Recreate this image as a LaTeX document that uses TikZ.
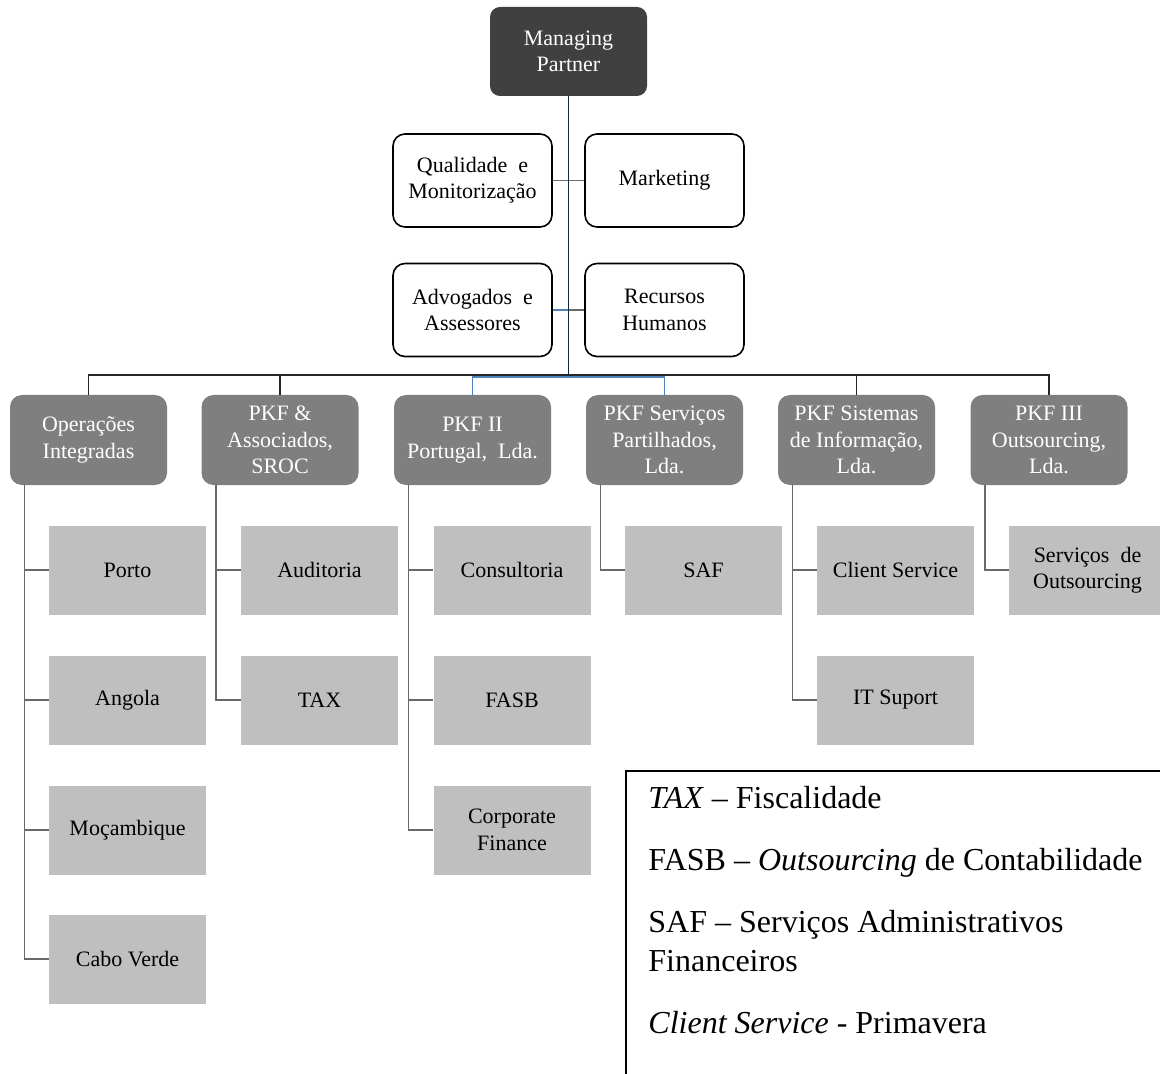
\documentclass[tikz,border=0pt]{standalone}
\usepackage{fontspec}
\setmainfont{Liberation Serif}
\usetikzlibrary{positioning, calc}
\definecolor{topgray}{RGB}{64, 64, 64}
\definecolor{firmgray}{RGB}{127, 127, 127}
\definecolor{unitgray}{RGB}{191, 191, 191}
\definecolor{linkblue}{RGB}{79, 129, 189}
\definecolor{stemnavy}{RGB}{22, 38, 60}
\definecolor{linkgray}{RGB}{105, 105, 105}

\tikzset{
  boxfont/.style={font=\fontsize{11}{13.2}\selectfont},
  topbox/.style={boxfont, fill=topgray, text=white, rounded corners=5pt, inner sep=2pt,
    minimum width=78.5pt, minimum height=44.5pt, align=center},
  staffbox/.style={boxfont, draw=black, line width=0.8pt, fill=white, rounded corners=6pt, inner sep=2pt,
    minimum width=79.5pt, minimum height=46.5pt, align=center},
  firmbox/.style={boxfont, fill=firmgray, text=white, rounded corners=6pt, inner sep=2pt,
    minimum width=78.5pt, minimum height=45pt, align=center},
  unitbox/.style={boxfont, fill=unitgray, inner sep=2pt,
    minimum width=78.5pt, minimum height=44.5pt, align=center},
  busline/.style={draw=black!85, line width=0.65pt},
  blueline/.style={draw=linkblue, line width=0.65pt},
  subline/.style={draw=linkgray, line width=0.65pt},
}

\begin{document}
\begin{tikzpicture}[x=0.5pt, y=-0.5pt]
  \useasboundingbox (0, 0) rectangle (1160, 1074);
  \clip (0, 0) rectangle (1160, 1074);

  % Top
  \node[topbox] (mp) at (568.5, 51.5) {Managing\\Partner};
  \coordinate (bus) at (568.5, 375);

  % Staff functions
  \node[staffbox] (qm) at (472.5, 180.5) {Qualidade\ \ e\\Monitorização};
  \node[staffbox] (mk) at (664.5, 180.5) {Marketing};
  \node[staffbox] (aa) at (472.5, 310) {Advogados\ \ e\\Assessores};
  \node[staffbox] (rh) at (664.5, 310) {Recursos\\Humanos};

  % Firms
  \node[firmbox] (op) at (88.5, 440) {Operações\\Integradas};
  \node[firmbox] (pa) at (280, 440) {PKF \&\\Associados,\\SROC};
  \node[firmbox] (p2) at (472.5, 440) {PKF II\\Portugal,\ \ Lda.};
  \node[firmbox] (ps) at (664.5, 440) {PKF Serviços\\Partilhados,\\Lda.};
  \node[firmbox] (si) at (856.5, 440) {PKF Sistemas\\de Informação,\\Lda.};
  \node[firmbox] (ou) at (1049, 440) {PKF III\\Outsourcing,\\Lda.};

  % Units
  \node[unitbox] (po) at (127.5, 570) {Porto};
  \node[unitbox] (an) at (127.5, 700) {Angola};
  \node[unitbox] (mz) at (127.5, 830) {Moçambique};
  \node[unitbox] (cv) at (127.5, 959) {Cabo Verde};
  \node[unitbox] (au) at (319.5, 570) {Auditoria};
  \node[unitbox] (tx) at (319.5, 700) {TAX};
  \node[unitbox] (co) at (512, 570) {Consultoria};
  \node[unitbox] (fa) at (512, 700) {FASB};
  \node[unitbox] (cf) at (512, 830) {Corporate\\Finance};
  \node[unitbox] (sa) at (703.5, 570) {SAF};
  \node[unitbox] (cs) at (895.5, 570) {Client Service};
  \node[unitbox] (it) at (895.5, 700) {IT Suport};
  \node[unitbox] (so) at (1087.5, 570) {Serviços\ \ de\\Outsourcing};

  % Connectors
  \draw[subline] (qm.east) -- (mk.west);
  \draw[blueline] (aa.east) -- (aa.east -| mp.south);
  \draw[subline] (aa.east -| mp.south) -- (rh.west);
  \draw[blueline] (p2.north) |- ([yshift=-1pt]bus) -| (ps.north);
  \draw[busline] (op.north) |- (bus) -| (ou.north);
  \draw[busline] (pa.north) -- (pa.north |- bus);
  \draw[busline] (si.north) -- (si.north |- bus);
  \draw[draw=stemnavy, line width=0.85pt] (mp.south) -- (bus);

  \draw[subline] ([xshift=7.5pt]op.south west) |- (cv.west);
  \draw[subline] ([xshift=7.5pt]pa.south west) |- (tx.west);
  \draw[subline] ([xshift=7.5pt]p2.south west) |- (cf.west);
  \draw[subline] ([xshift=7.5pt]ps.south west) |- (sa.west);
  \draw[subline] ([xshift=7.5pt]si.south west) |- (it.west);
  \draw[subline] ([xshift=7.5pt]ou.south west) |- (so.west);
  \foreach \u in {po, an, mz, au, co, fa, cs}
    \draw[subline] (\u.west) -- +(-12pt, 0);

  % Legend
  \node[draw=black, line width=0.8pt, minimum width=300pt, minimum height=160pt, anchor=north west] (legbox) at (625, 770) {};
  \node[anchor=north west, inner sep=0pt, align=left, font=\fontsize{16}{19.5}\selectfont] (legend) at (648, 786) {
    \textit{TAX} -- Fiscalidade\\[11.5pt]
    FASB -- \textit{Outsourcing} de Contabilidade\\[11.5pt]
    SAF -- Serviços Administrativos\\
    Financeiros\\[11.5pt]
    \textit{Client Service} - Primavera
  };
\end{tikzpicture}
\end{document}
